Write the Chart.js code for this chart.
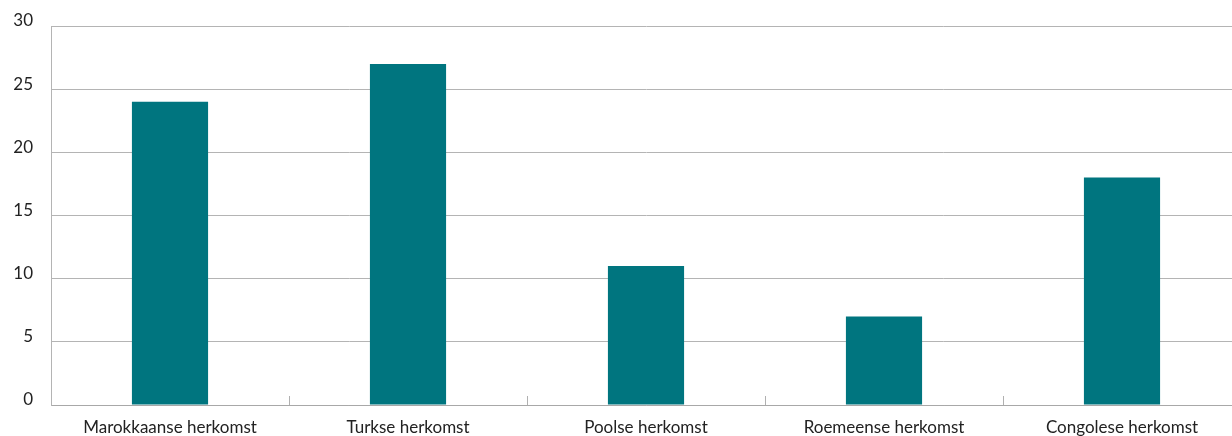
<!DOCTYPE html>
<html>
<head>
<meta charset="utf-8">
<script src="https://cdn.jsdelivr.net/npm/chart.js@4"></script>
<style>
  html, body { margin: 0; padding: 0; background: #fff; overflow: hidden; }
  #wrap { width: 1241px; height: 436px; }
</style>
</head>
<body>
<div id="wrap"><canvas id="chart"></canvas></div>
<script>
const categories = ["Marokkaanse herkomst", "Turkse herkomst", "Poolse herkomst", "Roemeense herkomst", "Congolese herkomst"];
const values = [24, 27, 11, 7, 18];
const yTicks = [0, 5, 10, 15, 20, 25, 30];

window.onload = () => {
  const ctx = document.getElementById("chart").getContext("2d");
  new Chart(ctx, {
    type: "bar",
    data: {
      labels: categories,
      datasets: [{
        data: values,
        backgroundColor: "#00757f",
        barPercentage: 0.32,
        categoryPercentage: 1
      }]
    },
    options: {
      responsive: true,
      maintainAspectRatio: false,
      animation: false,
      layout: { padding: { top: 26, right: 0, left: 0, bottom: 0 } },
      plugins: {
        legend: { display: false },
        tooltip: { enabled: false }
      },
      scales: {
        x: {
          afterFit: axis => { axis.height = 31; },
          grid: {
            offset: true,
            drawOnChartArea: false,
            tickLength: -9,
            color: "#b0b0b0"
          },
          border: { color: "#a8a8a8" },
          ticks: {
            color: "#222",
            padding: 21,
            font: { family: "Lato", size: 17 }
          }
        },
        y: {
          min: 0,
          max: 30,
          afterBuildTicks: axis => { axis.ticks = yTicks.map(v => ({ value: v })); },
          afterFit: axis => {
            axis.width = 51;
            axis.paddingTop = 0;
            axis.paddingBottom = 0;
          },
          grid: { color: "#b4b4b4", drawTicks: false },
          border: { color: "#b4b4b4" },
          ticks: {
            color: "#222",
            padding: 18,
            labelOffset: -5,
            font: { family: "Lato", size: 17 }
          }
        }
      }
    }
  });
};
</script>
</body>
</html>
